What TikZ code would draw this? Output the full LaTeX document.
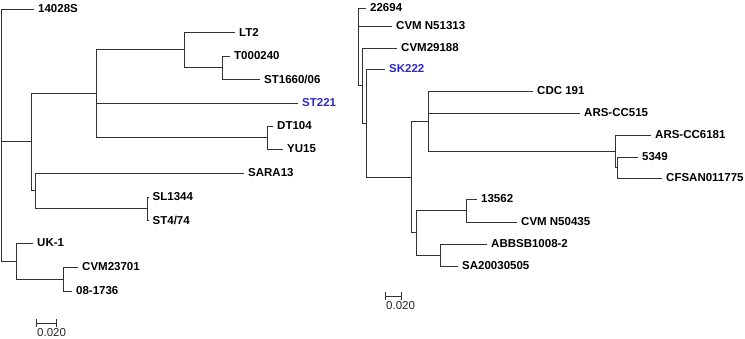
\documentclass[tikz,border=0pt]{standalone}
\usepackage{fontspec}
\setmainfont{Liberation Sans}
\usepackage{xcolor}
\usepackage{tikz}
\usetikzlibrary{calc, positioning}

\definecolor{branchgrey}{RGB}{50,50,50}
\definecolor{taxonblue}{RGB}{40,40,200}

\tikzset{
  branch/.style={draw=branchgrey, line width=0.9pt},
  leaf/.style={anchor=west, inner xsep=4pt, inner ysep=1pt,
    font=\bfseries\fontsize{11.5}{13}\selectfont, text=black},
  leafblue/.style={leaf, text=taxonblue},
  scalelabel/.style={anchor=north west, inner sep=1pt,
    font=\fontsize{11.5}{13}\selectfont, text=black!85},
}

\begin{document}
\begin{tikzpicture}[x=1pt, y=-1pt, >=stealth]
    \useasboundingbox (0,0) rectangle (745,338);

    % =================================================================
    % 1. LEFT TREE: INNER NODES
    % =================================================================
    \coordinate (LeftRoot) at (1,134);
    \coordinate (LeftA) at (31,141.5);
    \coordinate (LeftB) at (96,93);
    \coordinate (LeftC) at (184,49.5);
    \coordinate (LeftD) at (222,67.5);
    \coordinate (LeftE) at (267,137.5);
    \coordinate (LeftF) at (35,190.5);
    \coordinate (LeftG) at (147,208.5);
    \coordinate (LeftH) at (16,261);
    \coordinate (LeftI) at (63,279);

    % Leaves (node west = branch tip)
    \node[leaf] (s14028S) at (34,9) {14028S};
    \node[leaf] (LT2) at (235,32) {LT2};
    \node[leaf] (T000240) at (230,56) {T000240};
    \node[leaf] (ST1660) at (260,79) {ST1660/06};
    \node[leafblue] (ST221) at (298,103) {ST221};
    \node[leaf] (DT104) at (273,126) {DT104};
    \node[leaf] (YU15) at (283,149) {YU15};
    \node[leaf] (SARA13) at (244,173) {SARA13};
    \node[leaf] (SL1344) at (148.5,197) {SL1344};
    \node[leaf] (ST474) at (148.5,220) {ST4/74};
    \node[leaf] (UK1) at (33,243) {UK-1};
    \node[leaf] (CVM23701) at (78,267) {CVM23701};
    \node[leaf] (s081736) at (72,291) {08-1736};

    % =================================================================
    % 2. LEFT TREE: BRANCHES
    % =================================================================
    \draw[branch] (LeftRoot) |- (s14028S.west)
        (LeftRoot) |- (LeftA) (LeftRoot) |- (LeftH);
    \draw[branch] (LeftA) |- (LeftB) (LeftA) |- (LeftF);
    \draw[branch] (LeftB) |- (LeftC) (LeftB) |- (ST221.west) (LeftB) |- (LeftE);
    \draw[branch] (LeftC) |- (LT2.west) (LeftC) |- (LeftD);
    \draw[branch] (LeftD) |- (T000240.west) (LeftD) |- (ST1660.west);
    \draw[branch] (LeftE) |- (DT104.west) (LeftE) |- (YU15.west);
    \draw[branch] (LeftF) |- (SARA13.west) (LeftF) |- (LeftG);
    \draw[branch] (LeftG) |- (SL1344.west) (LeftG) |- (ST474.west);
    \draw[branch] (LeftH) |- (UK1.west) (LeftH) |- (LeftI);
    \draw[branch] (LeftI) |- (CVM23701.west) (LeftI) |- (s081736.west);

    % =================================================================
    % 3. RIGHT TREE: INNER NODES
    % =================================================================
    \coordinate (RightRoot) at (358,46.75);
    \coordinate (RightA) at (362,85.5);
    \coordinate (RightB) at (366,123);
    \coordinate (RightC) at (411,177);
    \coordinate (RightD) at (428,121);
    \coordinate (RightE) at (615,151);
    \coordinate (RightF) at (617,167.5);
    \coordinate (RightG) at (416,232);
    \coordinate (RightH) at (466,210.5);
    \coordinate (RightI) at (440,255);

    % Leaves
    \node[leaf] (s22694) at (366,8) {22694};
    \node[leaf] (CVMN51313) at (392,26) {CVM N51313};
    \node[leaf] (CVM29188) at (397,48) {CVM29188};
    \node[leafblue] (SK222) at (385,69) {SK222};
    \node[leaf] (CDC191) at (533,91) {CDC 191};
    \node[leaf] (ARSCC515) at (580,113) {ARS-CC515};
    \node[leaf] (ARSCC6181) at (651,135) {ARS-CC6181};
    \node[leaf] (s5349) at (638,157) {5349};
    \node[leaf] (CFSAN) at (662,178) {CFSAN011775};
    \node[leaf] (s13562) at (477,199) {13562};
    \node[leaf] (CVMN50435) at (517,222) {CVM N50435};
    \node[leaf] (ABBSB) at (487,244) {ABBSB1008-2};
    \node[leaf] (SA2003) at (458,266) {SA20030505};

    % =================================================================
    % 4. RIGHT TREE: BRANCHES
    % =================================================================
    \draw[branch] (RightRoot) |- (s22694.west)
        (RightRoot) |- (CVMN51313.west) (RightRoot) |- (RightA);
    \draw[branch] (RightA) |- (CVM29188.west) (RightA) |- (RightB);
    \draw[branch] (RightB) |- (SK222.west) (RightB) |- (RightC);
    \draw[branch] (RightC) |- (RightD) (RightC) |- (RightG);
    \draw[branch] (RightD) |- (CDC191.west) (RightD) |- (ARSCC515.west)
        (RightD) |- (RightE);
    \draw[branch] (RightE) |- (ARSCC6181.west) (RightE) |- (RightF);
    \draw[branch] (RightF) |- (s5349.west) (RightF) |- (CFSAN.west);
    \draw[branch] (RightG) |- (RightH) (RightG) |- (RightI);
    \draw[branch] (RightH) |- (s13562.west) (RightH) |- (CVMN50435.west);
    \draw[branch] (RightI) |- (ABBSB.west) (RightI) |- (SA2003.west);

    % =================================================================
    % 5. SCALE BARS
    % =================================================================
    \coordinate (LeftBarStart) at (36,323);
    \coordinate (LeftBarEnd) at (57,323);
    \coordinate (RightBarStart) at (385,296);
    \coordinate (RightBarEnd) at (402,296);

    \draw[branch, |-|] (LeftBarStart) -- (LeftBarEnd);
    \draw[branch, |-|] (RightBarStart) -- (RightBarEnd);

    \node[scalelabel] (LeftScale) at ($(LeftBarStart)+(0,4)$) {0.020};
    \node[scalelabel] (RightScale) at ($(RightBarStart)+(0,4)$) {0.020};

\end{tikzpicture}
\end{document}
